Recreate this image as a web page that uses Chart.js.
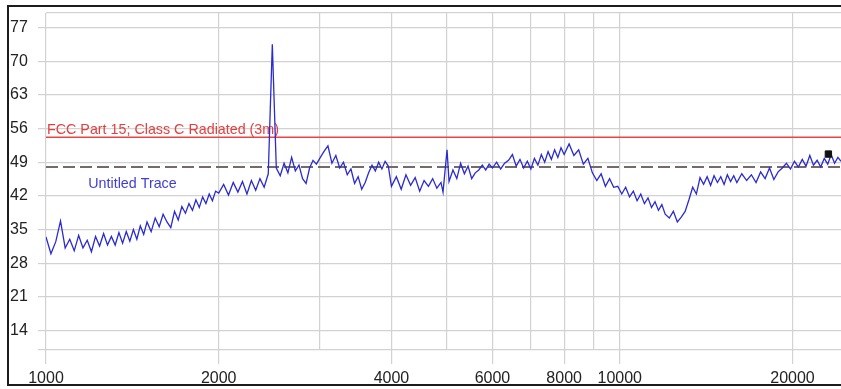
<!DOCTYPE html>
<html>
<head>
<meta charset="utf-8">
<script src="https://cdn.jsdelivr.net/npm/chart.js@4"></script>
<style>
  html, body { margin: 0; padding: 0; background: #fff; }
  #wrap { width: 841px; height: 389px; }
</style>
</head>
<body>
<div id="wrap"><canvas id="trace" width="841" height="389"></canvas></div>
<script>
const FREQ_MIN = 1000;
const FREQ_MAX = 24300;
const LEVEL_MIN = 10;
const LEVEL_MAX = 80;

const xGridTicks = [1000, 2000, 3000, 4000, 5000, 6000, 7000, 8000, 9000, 10000, 20000];
const xTickLabels = [1000, 2000, 4000, 6000, 8000, 10000, 20000];
const yGridTicks = [10, 14, 21, 28, 35, 42, 49, 56, 63, 70, 77, 80];
const yTickLabels = [14, 21, 28, 35, 42, 49, 56, 63, 70, 77];

const limitLabel = "FCC Part 15; Class C Radiated (3m)";
const limitLevel = 54.2;
const refLevel = 48;
const traceLabel = "Untitled Trace";

const markerFreq = [23100];
const markerLevel = [50.7];

const traceFreqs = [
  1000, 1020, 1040, 1060, 1080, 1100, 1120, 1140, 1160, 1180, 1200, 1220, 1240, 1260, 1280, 1300, 1320, 1340, 1360, 1380, 1400, 1420, 1440, 1460, 1480,
  1500, 1525, 1550, 1575, 1600, 1625, 1650, 1675, 1700, 1725, 1750, 1775, 1800, 1825, 1850, 1875, 1900, 1925, 1950, 1975,
  2000, 2040, 2080, 2120, 2160, 2200, 2240, 2280, 2320, 2360, 2400, 2440, 2460, 2480, 2520, 2560, 2600, 2640, 2680, 2720, 2760, 2800, 2840, 2880, 2920, 2960,
  3000, 3050, 3100, 3150, 3200, 3250, 3300, 3350, 3400, 3450, 3500, 3550, 3600, 3650, 3700, 3750, 3800, 3850, 3900, 3950,
  4000, 4080, 4160, 4240, 4320, 4400, 4480, 4560, 4640, 4720, 4800, 4880, 4920, 5000, 5040, 5120, 5200, 5280, 5360, 5440, 5520, 5600, 5680, 5760, 5840, 5920,
  6000, 6100, 6200, 6300, 6400, 6500, 6600, 6700, 6800, 6900, 7000, 7100, 7200, 7300, 7400, 7500, 7600, 7700, 7800, 7900,
  8000, 8160, 8320, 8480, 8640, 8800, 8960, 9120, 9280, 9440, 9600, 9760, 9920, 10080, 10240, 10400, 10560, 10720, 10880, 11040, 11200, 11360, 11520, 11680, 11840,
  12000, 12200, 12400, 12600, 12800, 13000, 13200, 13400, 13600, 13800, 14000, 14200, 14400, 14600, 14800, 15000, 15200, 15400, 15600, 15800,
  16000, 16320, 16640, 16960, 17280, 17600, 17920, 18240, 18560, 18880, 19200, 19520, 19840, 20160, 20480, 20800, 21120, 21440, 21760, 22080, 22400, 22720, 23040, 23360, 23680, 24000, 24300,
];

const traceLevels = [
  33.5, 30.0, 32.5, 36.8, 31.2, 33.0, 30.6, 33.8, 31.2, 32.8, 30.4, 33.6, 31.6, 34.2, 31.8, 33.6, 31.8, 34.4, 32.2, 34.6, 32.6, 35.0, 33.0, 35.8, 34.0,
  36.6, 34.6, 37.4, 35.6, 38.2, 36.6, 35.4, 38.8, 37.0, 39.8, 38.4, 40.4, 39.0, 41.2, 39.6, 41.8, 40.4, 42.4, 41.0, 43.0,
  42.6, 44.4, 42.2, 44.8, 42.8, 45.0, 42.4, 45.2, 43.2, 45.6, 43.8, 46.6, 60.2, 73.5, 47.8, 46.2, 48.8, 46.8, 50.0, 47.2, 48.4, 45.6, 44.6, 47.8, 49.4, 48.6,
  49.8, 51.2, 52.4, 48.8, 50.4, 47.8, 49.0, 46.4, 47.6, 44.6, 46.0, 43.4, 44.8, 46.8, 48.4, 47.2, 49.0, 47.6, 49.2, 48.2,
  44.0, 46.0, 43.4, 46.4, 44.2, 45.8, 43.0, 45.2, 44.0, 45.6, 43.6, 44.8, 42.8, 51.6, 45.0, 47.4, 45.6, 48.8, 46.6, 48.2, 45.6, 46.8, 47.4, 48.4, 47.4, 48.6,
  47.8, 49.0, 47.6, 48.8, 49.4, 50.6, 48.2, 49.6, 47.8, 49.2, 47.6, 49.8, 48.4, 50.6, 49.0, 51.2, 49.6, 51.6, 50.0, 52.0,
  50.6, 52.8, 50.4, 51.6, 48.6, 49.8, 46.8, 45.2, 46.6, 44.0, 45.6, 43.8, 44.0, 42.4, 43.8, 41.8, 43.0, 41.0, 42.4, 40.4, 41.6, 39.6, 40.8, 39.0, 40.2,
  38.2, 37.4, 38.8, 36.6, 37.6, 38.8, 41.2, 43.8, 42.4, 45.8, 44.4, 46.0, 44.2, 46.2, 44.8, 46.0, 44.4, 46.4, 45.0, 46.2,
  44.8, 46.6, 45.2, 46.4, 44.8, 47.0, 45.6, 47.8, 45.4, 47.0, 47.8, 48.8, 47.6, 49.2, 48.0, 49.6, 48.2, 50.4, 48.4, 49.4, 48.0, 49.8, 48.6, 50.6, 48.8, 50.0, 49.2,
];

const FONT = "'Liberation Sans', Arial, sans-serif";
const GRID = "#d2d2d2";

// frame + the two text labels sitting on the limit lines
const decorations = {
  id: "decorations",
  beforeDraw(chart) {
    const ctx = chart.ctx;
    ctx.save();
    ctx.fillStyle = "#fff";
    ctx.fillRect(0, 0, chart.width, chart.height);
    ctx.strokeStyle = "#1c1c1c";
    ctx.lineWidth = 2;
    ctx.strokeRect(8, 6, chart.width + 20, 379);
    ctx.restore();
  },
  beforeDatasetsDraw(chart) {
    const ctx = chart.ctx;
    const x = chart.scales.x;
    const y = chart.scales.y;
    ctx.save();
    ctx.font = `14.3px ${FONT}`;
    ctx.textBaseline = "alphabetic";
    ctx.textAlign = "left";
    ctx.fillStyle = "#e2403f";
    ctx.fillText(limitLabel, x.getPixelForValue(FREQ_MIN) + 1, y.getPixelForValue(limitLevel) - 3);
    ctx.fillStyle = "#3e3ed2";
    ctx.fillText(traceLabel, x.getPixelForValue(1180) + 1, y.getPixelForValue(refLevel) + 21);
    ctx.restore();
  },
};

function toPoints(xs, ys) {
  return xs.map((f, i) => ({ x: f, y: ys[i] }));
}

const chart = new Chart(document.getElementById("trace"), {
  type: "line",
  data: {
    datasets: [
      {
        label: "marker",
        data: toPoints(markerFreq, markerLevel),
        showLine: false,
        pointStyle: "rect",
        pointRadius: 4.5,
        pointBackgroundColor: "#111",
        pointBorderColor: "#111",
        order: 0,
      },
      {
        label: traceLabel,
        data: toPoints(traceFreqs, traceLevels),
        borderColor: "#2a2ad2",
        borderWidth: 1.3,
        pointRadius: 0,
        tension: 0,
        order: 1,
      },
      {
        label: limitLabel,
        data: toPoints([FREQ_MIN, FREQ_MAX], [limitLevel, limitLevel]),
        borderColor: "#ea4444",
        borderWidth: 1.6,
        pointRadius: 0,
        order: 2,
      },
      {
        label: "reference",
        data: toPoints([FREQ_MIN, FREQ_MAX], [refLevel, refLevel]),
        borderColor: "#76696a",
        borderWidth: 2,
        borderDash: [12, 5],
        pointRadius: 0,
        order: 3,
      },
    ],
  },
  options: {
    responsive: false,
    animation: false,
    layout: { autoPadding: false, padding: { top: 13, left: 10, right: 0, bottom: 0 } },
    plugins: {
      legend: { display: false },
      tooltip: { enabled: false },
    },
    scales: {
      x: {
        type: "logarithmic",
        min: FREQ_MIN,
        max: FREQ_MAX,
        afterBuildTicks: (scale) => {
          scale.ticks = xGridTicks.map((v) => ({ value: v }));
        },
        afterFit: (scale) => {
          scale.height = 39;
        },
        border: { display: false },
        grid: {
          color: GRID,
          lineWidth: 1.2,
          tickLength: 14,
          tickColor: (c) => (c.tick && xTickLabels.includes(c.tick.value) ? GRID : "rgba(0,0,0,0)"),
        },
        ticks: {
          autoSkip: false,
          maxRotation: 0,
          padding: 5,
          color: "#222",
          font: { family: FONT, size: 16 },
          callback: (value) => (xTickLabels.includes(value) ? String(value) : ""),
        },
      },
      y: {
        min: LEVEL_MIN,
        max: LEVEL_MAX,
        afterBuildTicks: (scale) => {
          scale.ticks = yGridTicks.map((v) => ({ value: v }));
        },
        afterFit: (scale) => {
          scale.width = 36;
        },
        border: { display: false },
        grid: {
          color: GRID,
          lineWidth: 1.2,
          tickLength: 8,
          tickColor: (c) => (c.tick && c.tick.value === LEVEL_MAX ? "rgba(0,0,0,0)" : GRID),
        },
        ticks: {
          crossAlign: "far",
          color: "#222",
          font: { family: FONT, size: 16 },
          callback: (value) => (yTickLabels.includes(value) ? String(value) : ""),
        },
      },
    },
  },
  plugins: [decorations],
});
</script>
</body>
</html>
